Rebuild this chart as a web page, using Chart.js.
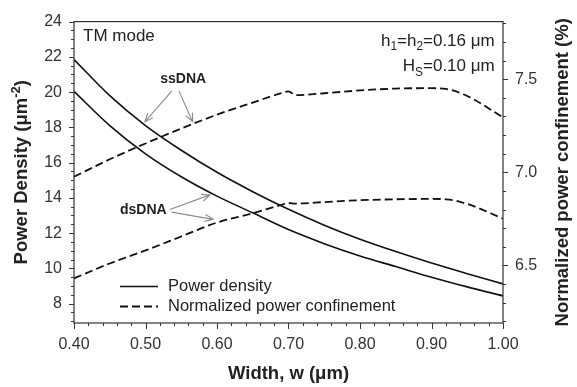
<!DOCTYPE html>
<html>
<head>
<meta charset="utf-8">
<script src="https://cdn.jsdelivr.net/npm/chart.js@4.4.1/dist/chart.umd.min.js"></script>
<style>
  html, body { margin: 0; padding: 0; background: #fff; }
  #wrap { width: 577px; height: 387px; }
</style>
</head>
<body>
<div id="wrap"><canvas id="chart" width="577" height="387"></canvas></div>
<script>
// waveguide width w (um) and power density (um^-2)
const widths = [0.40, 0.45, 0.50, 0.55, 0.60, 0.65, 0.70, 0.75, 0.80, 0.85, 0.90, 0.95, 1.00];
const ssPower = [21.85, 19.8, 18.1, 16.7, 15.45, 14.35, 13.35, 12.45, 11.65, 10.95, 10.3, 9.7, 9.12];
const dsPower = [20.04, 18.1, 16.5, 15.2, 14.1, 13.15, 12.2, 11.4, 10.7, 10.1, 9.5, 8.95, 8.44];

// normalized power confinement (%)
const confWidths = [0.40, 0.45, 0.50, 0.55, 0.60, 0.65, 0.69, 0.70, 0.71, 0.75, 0.80, 0.85, 0.90, 0.92, 0.95, 1.00];
const ssConf = [6.976, 7.07, 7.155, 7.235, 7.31, 7.375, 7.425, 7.435, 7.415, 7.425, 7.44, 7.45, 7.452, 7.448, 7.41, 7.295];
const dsConf = [6.43, 6.51, 6.58, 6.655, 6.73, 6.78, 6.825, 6.835, 6.832, 6.84, 6.85, 6.855, 6.857, 6.855, 6.83, 6.751];

const xTicks = [0.4, 0.5, 0.6, 0.7, 0.8, 0.9, 1.0];
const leftTicks = [8, 10, 12, 14, 16, 18, 20, 22, 24];
const rightTicks = [6.5, 7.0, 7.5];

const FONT = '"Liberation Sans", Arial, sans-serif';
Chart.defaults.font.family = FONT;

const pts = (xs, ys) => xs.map((x, i) => ({ x: x, y: ys[i] }));

function line(label, data, axis, dash) {
  return {
    label: label,
    data: data,
    yAxisID: axis,
    borderColor: '#111',
    borderWidth: dash ? 1.8 : 1.6,
    borderDash: dash ? [8, 4] : [],
    pointRadius: 0,
    fill: false,
    cubicInterpolationMode: 'monotone'
  };
}

// text with sub/superscript pieces: [[text, ''|'sub'|'sup'], ...]
function richWidth(ctx, parts, size, weight) {
  let w = 0;
  parts.forEach(([t, m]) => {
    ctx.font = weight + ' ' + (m ? size * 0.7 : size) + 'px ' + FONT;
    w += ctx.measureText(t).width;
  });
  return w;
}
function drawRich(ctx, parts, x, y, size, weight, align) {
  let cx = x;
  const w = richWidth(ctx, parts, size, weight);
  if (align === 'right') cx = x - w;
  if (align === 'center') cx = x - w / 2;
  ctx.textAlign = 'left';
  ctx.textBaseline = 'alphabetic';
  parts.forEach(([t, m]) => {
    const s = m ? size * 0.7 : size;
    const dy = m === 'sub' ? size * 0.28 : m === 'sup' ? -size * 0.4 : 0;
    ctx.font = weight + ' ' + s + 'px ' + FONT;
    ctx.fillText(t, cx, y + dy);
    cx += ctx.measureText(t).width;
  });
}

function arrow(ctx, x0, y0, x1, y1) {
  const a = Math.atan2(y1 - y0, x1 - x0), h = 9, s = 0.4;
  ctx.beginPath();
  ctx.moveTo(x0, y0);
  ctx.lineTo(x1, y1);
  ctx.moveTo(x1 - h * Math.cos(a - s), y1 - h * Math.sin(a - s));
  ctx.lineTo(x1, y1);
  ctx.lineTo(x1 - h * Math.cos(a + s), y1 - h * Math.sin(a + s));
  ctx.stroke();
}

const decorations = {
  id: 'decorations',
  afterDraw(chart) {
    const ctx = chart.ctx;
    const area = chart.chartArea;
    const xs = chart.scales.x, ys = chart.scales.y, yr = chart.scales.y1;
    const px = v => xs.getPixelForValue(v);
    const py = v => ys.getPixelForValue(v);
    const pr = v => yr.getPixelForValue(v);

    ctx.save();
    // frame
    ctx.strokeStyle = '#333';
    ctx.lineWidth = 1.2;
    ctx.strokeRect(area.left, area.top, area.right - area.left, area.bottom - area.top);

    // tick marks
    ctx.lineWidth = 1;
    ctx.beginPath();
    for (let i = 0; i <= 30; i++) {
      const x = Math.round(px(0.4 + i * 0.02)) + 0.5;
      const len = i % 5 === 0 ? 6 : 3;
      ctx.moveTo(x, area.bottom);
      ctx.lineTo(x, area.bottom + len);
    }
    for (let v = 7; v <= 24; v += 0.5) {
      const y = Math.round(py(v)) + 0.5;
      const len = v % 2 === 0 ? 5 : 3;
      ctx.moveTo(area.left, y);
      ctx.lineTo(area.left - len, y);
    }
    for (let i = 62; i <= 78; i++) {
      const y = Math.round(pr(i / 10)) + 0.5;
      const len = i % 5 === 0 ? 5 : 3;
      ctx.moveTo(area.right, y);
      ctx.lineTo(area.right + len, y);
    }
    ctx.stroke();

    // axis titles
    ctx.fillStyle = '#222';
    ctx.save();
    ctx.translate(27, (area.top + area.bottom) / 2);
    ctx.rotate(-Math.PI / 2);
    drawRich(ctx, [['Power Density (\u03bcm', ''], ['-2', 'sup'], [')', '']], 0, 0, 18.5, 'bold', 'center');
    ctx.restore();
    ctx.save();
    ctx.translate(568, (area.top + area.bottom) / 2);
    ctx.rotate(-Math.PI / 2);
    drawRich(ctx, [['Normalized power confinement (%)', '']], 0, 0, 18.5, 'bold', 'center');
    ctx.restore();

    // annotations
    ctx.fillStyle = '#222';
    ctx.font = '17px ' + FONT;
    ctx.textAlign = 'left';
    ctx.textBaseline = 'middle';
    ctx.fillText('TM mode', px(0.4126), py(23.17));
    drawRich(ctx, [['h', ''], ['1', 'sub'], ['=h', ''], ['2', 'sub'], ['=0.16 \u03bcm', '']], px(0.9884), py(22.64), 17, 'normal', 'right');
    drawRich(ctx, [['H', ''], ['S', 'sub'], ['=0.10 \u03bcm', '']], px(0.9884), py(21.18), 17, 'normal', 'right');

    ctx.font = 'bold 14px ' + FONT;
    ctx.textAlign = 'center';
    ctx.textBaseline = 'middle';
    ctx.fillText('ssDNA', px(0.5528), py(20.72));
    ctx.fillText('dsDNA', px(0.4969), py(13.30));

    ctx.strokeStyle = '#8c8c8c';
    ctx.lineWidth = 1.1;
    arrow(ctx, px(0.5370), py(20.07), px(0.4992), py(18.32));
    arrow(ctx, px(0.5467), py(20.07), px(0.5659), py(18.32));
    arrow(ctx, px(0.5342), py(13.34), px(0.5901), py(14.17));
    arrow(ctx, px(0.5365), py(13.19), px(0.5947), py(12.78));

    // legend
    const items = [chart.data.datasets[0], chart.data.datasets[2]];
    items.forEach((ds, i) => {
      const y = area.bottom - 37 + i * 20;
      ctx.strokeStyle = ds.borderColor;
      ctx.lineWidth = ds.borderWidth;
      ctx.setLineDash(ds.borderDash);
      ctx.beginPath();
      ctx.moveTo(area.left + 46, y + 0.5);
      ctx.lineTo(area.left + 84, y + 0.5);
      ctx.stroke();
      ctx.setLineDash([]);
      ctx.fillStyle = '#222';
      ctx.font = '16.5px ' + FONT;
      ctx.textAlign = 'left';
      ctx.textBaseline = 'middle';
      ctx.fillText(ds.label, area.left + 94, y);
    });
    ctx.restore();
  }
};

new Chart(document.getElementById('chart'), {
  type: 'line',
  data: {
    datasets: [
      line('Power density', pts(widths, ssPower), 'y', false),
      line('Power density dsDNA', pts(widths, dsPower), 'y', false),
      line('Normalized power confinement', pts(confWidths, ssConf), 'y1', true),
      line('Normalized power confinement dsDNA', pts(confWidths, dsConf), 'y1', true)
    ]
  },
  options: {
    responsive: false,
    animation: false,
    layout: { padding: { top: 14, left: 0, right: 0, bottom: 0 } },
    plugins: { legend: { display: false }, tooltip: { enabled: false } },
    scales: {
      x: {
        type: 'linear',
        min: 0.4,
        max: 1.0,
        afterBuildTicks: s => { s.ticks = xTicks.map(v => ({ value: v })); },
        afterFit: s => { s.height = 64; },
        grid: { display: false, drawTicks: false },
        border: { display: false },
        ticks: { padding: 12, color: '#333', font: { size: 16 }, maxRotation: 0, callback: v => Number(v).toFixed(2) },
        title: { display: true, text: 'Width, w (\u03bcm)', color: '#222', font: { size: 18.5, weight: 'bold' }, padding: { top: 0, bottom: 2 } }
      },
      y: {
        type: 'linear',
        position: 'left',
        min: 6.9,
        max: 24,
        afterBuildTicks: s => { s.ticks = leftTicks.map(v => ({ value: v })); },
        afterFit: s => { s.width = 74; },
        grid: { display: false, drawTicks: false },
        border: { display: false },
        ticks: { padding: 12, color: '#333', font: { size: 16 }, callback: v => String(v) }
      },
      y1: {
        type: 'linear',
        position: 'right',
        min: 6.19,
        max: 7.81,
        afterBuildTicks: s => { s.ticks = rightTicks.map(v => ({ value: v })); },
        afterFit: s => { s.width = 74; },
        grid: { display: false, drawTicks: false },
        border: { display: false },
        ticks: { padding: 12, color: '#333', font: { size: 16 }, callback: v => Number(v).toFixed(1) }
      }
    }
  },
  plugins: [decorations]
});
</script>
</body>
</html>
